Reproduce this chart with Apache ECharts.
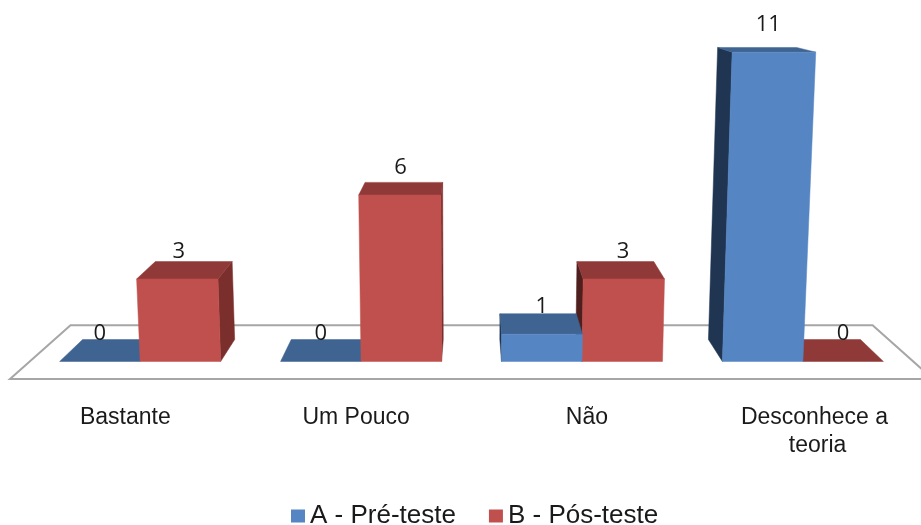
<!DOCTYPE html>
<html>
<head>
<meta charset="utf-8">
<style>html,body{margin:0;padding:0;background:#fff}#chart{width:921px;height:525px}</style>
<script src="https://cdn.jsdelivr.net/npm/echarts@6/dist/echarts.min.js"></script>
</head>
<body>
<div id="chart"></div>
<script>
// Respostas por categoria, antes e depois do teste
const categories = ['Bastante', 'Um Pouco', 'Não', 'Desconhece a teoria'];
const preTeste = [0, 0, 1, 11];
const posTeste = [3, 6, 3, 0];
const seriesNames = ['A - Pré-teste', 'B - Pós-teste'];

// Camera model: every point is taken from the axes, then pulled towards a vanishing point
const VANISH_X = 472, VANISH_Y = -32;
const DEPTH_FLOOR_FRONT = 1, DEPTH_BAR_FRONT = 0.9574, DEPTH_BAR_BACK = 0.904, DEPTH_FLOOR_BACK = 0.869;
const BAR_BAND_SHARE = 0.3644;
const SPREAD_X = 0.000124, SPREAD_Y = 0.0000977;

const SKINS = [
  { front: '#5585c3', top: '#3f6492', nearSide: '#2c4a70', farSide: '#1f3552' },
  { front: '#c0504d', top: '#8f3a38', nearSide: '#7a2f2d', farSide: '#4f1f1e' }
];

function project(x, y, baseY, depth) {
  const h = baseY - y;
  const sx = VANISH_X + (x - VANISH_X) * (1 + SPREAD_X * h);
  const sy = baseY - h * (1 + SPREAD_Y * h);
  return [VANISH_X + (sx - VANISH_X) * depth, VANISH_Y + (sy - VANISH_Y) * depth];
}

function face(points, color, z2) {
  return {
    type: 'polygon', z2: z2,
    shape: { points: points },
    style: { fill: color, stroke: color, lineWidth: 0.5 }
  };
}

function barRenderer(seriesIdx) {
  return function (params, api) {
    const cat = api.value(0), val = api.value(1);
    const base = api.coord([cat, 0]);
    const top = api.coord([cat, val]);
    const w = api.size([1, 0])[0] * BAR_BAND_SHARE;
    const x0 = base[0] + (seriesIdx === 0 ? -w : 0), x1 = x0 + w;
    const yB = base[1], yT = top[1];
    const p = (x, y, d) => project(x, y, yB, d);
    const fd = DEPTH_BAR_FRONT, bd = DEPTH_BAR_BACK;
    const skin = SKINS[seriesIdx];
    const leftOfCentre = base[0] < VANISH_X;
    const layer = 10 + 10 * (leftOfCentre ? seriesIdx : 1 - seriesIdx);
    const sideX = leftOfCentre ? x1 : x0;
    const children = [];
    if (val > 0) {
      children.push(face([p(sideX, yB, fd), p(sideX, yT, fd), p(sideX, yT, bd), p(sideX, yB, bd)],
        leftOfCentre ? skin.nearSide : skin.farSide, layer));
      children.push(face([p(x0, yB, fd), p(x1, yB, fd), p(x1, yT, fd), p(x0, yT, fd)], skin.front, layer + 2));
    }
    children.push(face([p(x0, yT, fd), p(x1, yT, fd), p(x1, yT, bd), p(x0, yT, bd)], skin.top, layer + 1));
    // Value label sits a fixed distance over the front top edge
    const a = p(x0, yB, fd), b = p(x1, yB, fd), c = p(x0, yT, fd), e = p(x1, yT, fd);
    children.push({
      type: 'text', z2: 100,
      style: {
        text: String(val),
        x: (a[0] + b[0] + c[0] + e[0]) / 4,
        y: c[1] - 27.5,
        align: 'center', verticalAlign: 'middle',
        font: '22px "Open Sans"', fill: '#1a1a1a'
      }
    });
    return { type: 'group', children: children };
  };
}

function floorRenderer(params) {
  const g = params.coordSys;
  const yB = g.y + g.height, xL = g.x, xR = g.x + g.width;
  const p = (x, d) => project(x, yB, yB, d);
  return {
    type: 'polygon', z2: 1,
    shape: { points: [p(xL, DEPTH_FLOOR_FRONT), p(xR, DEPTH_FLOOR_FRONT), p(xR, DEPTH_FLOOR_BACK), p(xL, DEPTH_FLOOR_BACK)] },
    style: { fill: '#fff', stroke: '#a6a6a6', lineWidth: 2 }
  };
}

const chart = echarts.init(document.getElementById('chart'), null, { renderer: 'canvas' });
chart.setOption({
  animation: false,
  backgroundColor: '#fff',
  grid: { left: 10, width: 923, top: 37, height: 342, outerBoundsMode: 'none' },
  xAxis: {
    type: 'category', data: categories,
    axisLine: { show: false }, axisTick: { show: false },
    axisLabel: {
      interval: 0, margin: 25, color: '#1a1a1a',
      fontFamily: '"Liberation Sans"', fontSize: 23, lineHeight: 28,
      width: 170, overflow: 'break'
    }
  },
  yAxis: { type: 'value', min: 0, max: 12, show: false },
  legend: {
    data: seriesNames, left: 286, top: 498,
    icon: 'rect', itemWidth: 14, itemHeight: 13, itemGap: 33,
    textStyle: { fontFamily: '"Liberation Sans"', fontSize: 26, color: '#1a1a1a' }
  },
  series: [
    { type: 'custom', name: 'floor', data: [[0, 0]], renderItem: floorRenderer, silent: true },
    {
      type: 'custom', name: seriesNames[0], itemStyle: { color: SKINS[0].front },
      data: preTeste.map((v, i) => [i, v]), encode: { x: 0, y: 1 }, renderItem: barRenderer(0)
    },
    {
      type: 'custom', name: seriesNames[1], itemStyle: { color: SKINS[1].front },
      data: posTeste.map((v, i) => [i, v]), encode: { x: 0, y: 1 }, renderItem: barRenderer(1)
    }
  ]
});
</script>
</body>
</html>
